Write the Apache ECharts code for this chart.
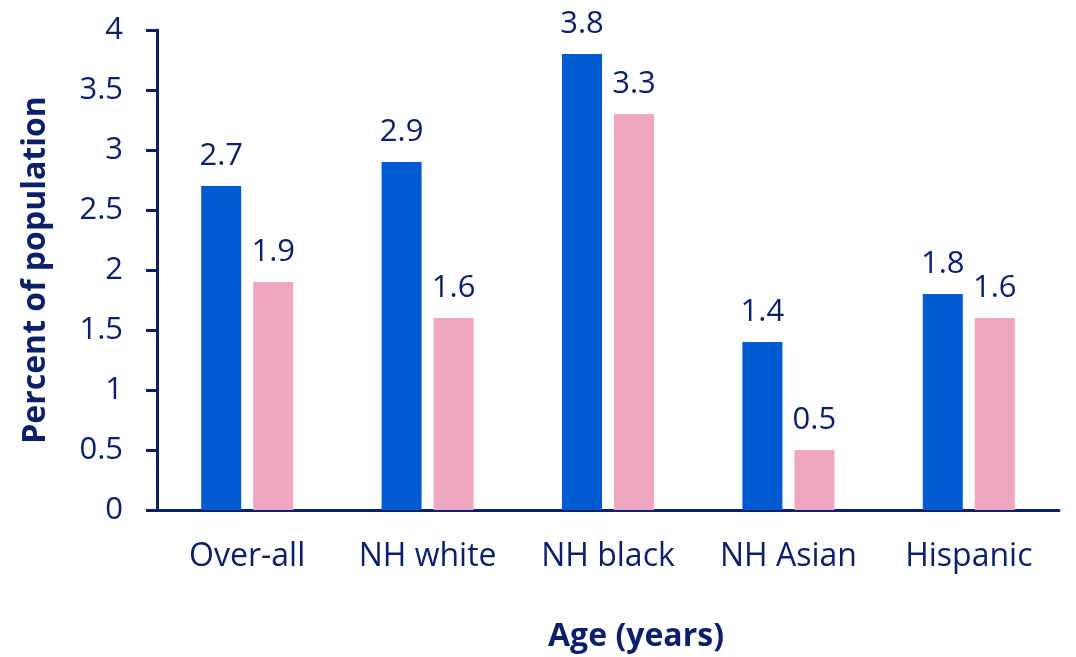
<!DOCTYPE html>
<html>
<head>
<meta charset="utf-8">
<script src="https://cdn.jsdelivr.net/npm/echarts@6/dist/echarts.min.js"></script>
<style>
  html, body { margin: 0; padding: 0; background: #ffffff; }
  #chart { width: 1076px; height: 657px; }
</style>
</head>
<body>
<div id="chart"></div>
<script>
// Groups along the x axis
const categories = ['Over-all', 'NH white', 'NH black', 'NH Asian', 'Hispanic'];
// Percent of population for the two series
const seriesA = [2.7, 2.9, 3.8, 1.4, 1.8];
const seriesB = [1.9, 1.6, 3.3, 0.5, 1.6];

const NAVY = '#0c1f6b';
const FONT = '"Open Sans", "Noto Sans", sans-serif';

const chart = echarts.init(document.getElementById('chart'));

const labelStyle = {
  show: true,
  position: 'top',
  distance: 14,
  color: NAVY,
  fontSize: 31,
  fontFamily: FONT
};

chart.setOption({
  animation: false,
  backgroundColor: '#ffffff',
  grid: {
    left: 157, right: 17, top: 30, bottom: 147,
    containLabel: false,
    outerBoundsMode: 'none'
  },
  xAxis: {
    type: 'category',
    data: categories,
    name: 'Age (years)',
    nameLocation: 'middle',
    nameGap: 111,
    nameTextStyle: {
      color: NAVY, fontSize: 32, fontWeight: 'bold', fontFamily: FONT,
      padding: [0, 0, 0, 56]
    },
    axisLine: { show: true, lineStyle: { color: NAVY, width: 3 } },
    axisTick: { show: false },
    axisLabel: { color: NAVY, fontSize: 32, fontFamily: FONT, margin: 31 },
    splitLine: { show: false }
  },
  yAxis: {
    type: 'value',
    min: 0,
    max: 4,
    interval: 0.5,
    name: 'Percent of population',
    nameLocation: 'middle',
    nameGap: 105,
    nameRotate: 90,
    nameTextStyle: { color: NAVY, fontSize: 32, fontWeight: 'bold', fontFamily: FONT },
    axisLine: { show: true, lineStyle: { color: NAVY, width: 3 } },
    axisTick: { show: true, inside: false, length: 11, lineStyle: { color: NAVY, width: 3 } },
    axisLabel: { color: NAVY, fontSize: 31, fontFamily: FONT, margin: 34 },
    splitLine: { show: false }
  },
  series: [
    {
      type: 'bar',
      data: seriesA,
      barWidth: 40,
      barGap: '30%',
      itemStyle: { color: '#005ad2' },
      label: labelStyle
    },
    {
      type: 'bar',
      data: seriesB,
      barWidth: 40,
      itemStyle: { color: '#efa7bf' },
      label: labelStyle
    }
  ]
});
</script>
</body>
</html>
